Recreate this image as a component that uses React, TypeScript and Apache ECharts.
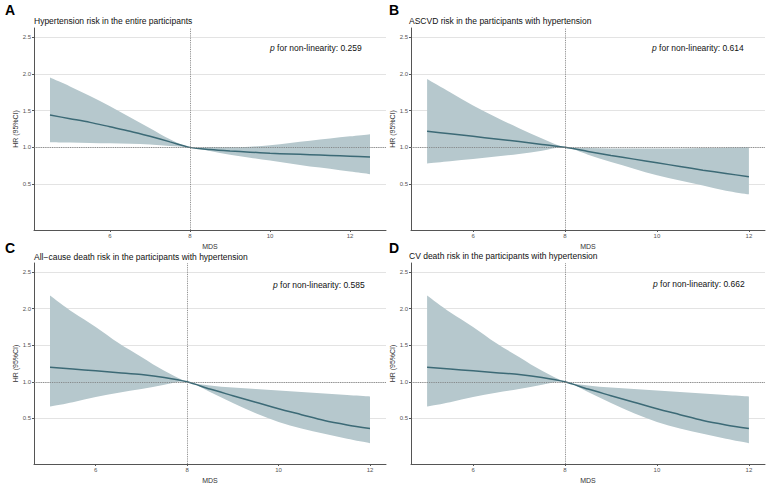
import React, { useEffect, useRef } from "react";
import * as echarts from "echarts";

// ---- data ----
const xA = [4.5, 5, 5.5, 6, 6.5, 7, 7.5, 8, 8.5, 9, 9.5, 10, 10.5, 11, 11.5, 12, 12.5];
const midA = [1.44, 1.39, 1.34, 1.28, 1.22, 1.15, 1.075, 1.0, 0.97, 0.95, 0.935, 0.92, 0.91, 0.9, 0.89, 0.88, 0.87];
const upA = [1.95, 1.83, 1.7, 1.56, 1.41, 1.26, 1.11, 1.0, 1.0, 1.0, 1.01, 1.03, 1.06, 1.09, 1.12, 1.15, 1.18];
const loA = [1.07, 1.065, 1.06, 1.055, 1.05, 1.04, 1.02, 1.0, 0.95, 0.9, 0.86, 0.82, 0.78, 0.74, 0.71, 0.67, 0.635];

const xB = [5, 5.5, 6, 6.5, 7, 7.5, 8, 8.5, 9, 9.5, 10, 10.5, 11, 11.5, 12];
const midB = [1.22, 1.185, 1.15, 1.115, 1.08, 1.04, 1.0, 0.945, 0.89, 0.84, 0.79, 0.74, 0.69, 0.645, 0.6];
const upB = [1.93, 1.75, 1.57, 1.41, 1.26, 1.12, 1.0, 0.99, 0.985, 0.985, 0.985, 0.985, 0.99, 0.995, 1.0];
const loB = [0.78, 0.81, 0.84, 0.875, 0.91, 0.955, 1.0, 0.9, 0.8, 0.71, 0.62, 0.55, 0.48, 0.41, 0.36];

const xC = [5, 5.5, 6, 6.5, 7, 7.5, 8, 8.5, 9, 9.5, 10, 10.5, 11, 11.5, 12];
const midC = [1.2, 1.175, 1.15, 1.125, 1.1, 1.06, 1.0, 0.9, 0.81, 0.72, 0.63, 0.55, 0.47, 0.41, 0.36];
const upC = [2.18, 1.95, 1.75, 1.53, 1.34, 1.15, 1.0, 0.95, 0.92, 0.9, 0.88, 0.86, 0.84, 0.82, 0.8];
const loC = [0.66, 0.72, 0.79, 0.85, 0.9, 0.96, 1.0, 0.86, 0.71, 0.57, 0.45, 0.36, 0.29, 0.22, 0.16];

const xD = [5, 5.5, 6, 6.5, 7, 7.5, 8, 8.5, 9, 9.5, 10, 10.5, 11, 11.5, 12];
const midD = [1.2, 1.175, 1.15, 1.125, 1.1, 1.06, 1.0, 0.9, 0.81, 0.72, 0.63, 0.55, 0.47, 0.41, 0.36];
const upD = [2.18, 1.95, 1.75, 1.53, 1.34, 1.15, 1.0, 0.95, 0.92, 0.9, 0.88, 0.86, 0.84, 0.82, 0.8];
const loD = [0.66, 0.72, 0.79, 0.85, 0.9, 0.96, 1.0, 0.86, 0.71, 0.57, 0.45, 0.36, 0.29, 0.22, 0.16];

const xTicks = [6, 8, 10, 12];
const yTicks = [0.5, 1.0, 1.5, 2.0, 2.5];
const letters = ["A", "B", "C", "D"];
const titles = [
  "Hypertension risk in the entire participants",
  "ASCVD risk in the participants with hypertension",
  "All\u2212cause death risk in the participants with hypertension",
  "CV death risk in the participants with hypertension",
];
const pValues = ["0.259", "0.614", "0.585", "0.662"];

const FILL = "#b6c8cd";
const LINE = "#3c6a76";
const FONT = "Liberation Sans, Arial, sans-serif";

const grids = [
  { left: 34, top: 28, width: 352, height: 202 },
  { left: 411, top: 28, width: 354, height: 202 },
  { left: 34, top: 263, width: 352, height: 204 },
  { left: 411, top: 263, width: 354, height: 204 },
];
const xRanges = [
  [4.1, 12.9],
  [4.65, 12.35],
  [4.65, 12.35],
  [4.65, 12.35],
];
const letterPos = [
  [5, 3],
  [389, 3],
  [5, 241],
  [389, 241],
];
const titlePos = [
  [34, 16],
  [409, 16],
  [34, 252],
  [409, 251],
];
const pPos = [
  [270, 43],
  [652, 43],
  [273, 280],
  [653, 279],
];

// Catmull-Rom spline through pts as SVG cubic segments (without initial move)
function splineSegs(pts: number[][]): string {
  let d = "";
  const n = pts.length;
  for (let i = 0; i < n - 1; i++) {
    const p0 = pts[Math.max(0, i - 1)];
    const p1 = pts[i];
    const p2 = pts[i + 1];
    const p3 = pts[Math.min(n - 1, i + 2)];
    const c1x = p1[0] + (p2[0] - p0[0]) / 6;
    const c1y = p1[1] + (p2[1] - p0[1]) / 6;
    const c2x = p2[0] - (p3[0] - p1[0]) / 6;
    const c2y = p2[1] - (p3[1] - p1[1]) / 6;
    d += ` C${c1x.toFixed(2)},${c1y.toFixed(2)} ${c2x.toFixed(2)},${c2y.toFixed(2)} ${p2[0].toFixed(2)},${p2[1].toFixed(2)}`;
  }
  return d;
}

export default function App() {
  const ref = useRef<HTMLDivElement>(null);
  useEffect(() => {
    if (!ref.current) return;
    const chart = echarts.init(ref.current, undefined, { renderer: "svg" });
    const panels = [
      [xA, loA, midA, upA],
      [xB, loB, midB, upB],
      [xC, loC, midC, upC],
      [xD, loD, midD, upD],
    ];
    const series: any[] = [];
    panels.forEach(([xs, lo, mid, up], i) => {
      series.push({
        type: "custom",
        xAxisIndex: i,
        yAxisIndex: i,
        data: xs.map((x, k) => [x, lo[k], up[k]]),
        encode: { x: 0, y: [1, 2] },
        silent: true,
        z: 2,
        renderItem: (params: any, api: any) => {
          if (params.dataIndex !== 0) return null;
          const top = xs.map((x, k) => api.coord([x, up[k]]));
          const bot = xs.map((x, k) => api.coord([x, lo[k]])).reverse();
          const d =
            `M${top[0][0].toFixed(2)},${top[0][1].toFixed(2)}` +
            splineSegs(top) +
            ` L${bot[0][0].toFixed(2)},${bot[0][1].toFixed(2)}` +
            splineSegs(bot) +
            " Z";
          return {
            type: "path",
            shape: { pathData: d },
            style: { fill: FILL, stroke: "none" },
          };
        },
      });
      series.push({
        type: "line",
        xAxisIndex: i,
        yAxisIndex: i,
        data: xs.map((x, k) => [x, mid[k]]),
        symbol: "none",
        smooth: 0.3,
        lineStyle: { color: LINE, width: 1.5 },
        silent: true,
        z: 3,
        markLine: {
          symbol: "none",
          silent: true,
          label: { show: false },
          lineStyle: { type: "dotted", color: "#7a7a7a", width: 0.9 },
          data: [{ xAxis: 8 }, { yAxis: 1 }],
        },
      });
    });

    const xAxis = grids.map((_, i) => ({
      type: "value",
      gridIndex: i,
      min: xRanges[i][0],
      max: xRanges[i][1],
      name: "MDS",
      nameLocation: "middle",
      nameGap: 13,
      nameTextStyle: { fontSize: 7, color: "#333", fontFamily: FONT },
      axisLine: { show: true, onZero: false, lineStyle: { color: "#555", width: 1 } },
      axisTick: { show: true, length: 2, customValues: xTicks, lineStyle: { color: "#555" } },
      axisLabel: { customValues: xTicks, fontSize: 6, color: "#555", margin: 3, fontFamily: FONT },
      splitLine: { show: false },
    }));
    const yAxis = grids.map((_, i) => ({
      type: "value",
      gridIndex: i,
      min: -0.125,
      max: 2.625,
      name: "HR (95%CI)",
      nameLocation: "middle",
      nameGap: 10,
      nameTextStyle: { fontSize: 7, color: "#333", fontFamily: FONT },
      axisLine: { show: true, onZero: false, lineStyle: { color: "#555", width: 1 } },
      axisTick: { show: true, length: 2, customValues: yTicks, lineStyle: { color: "#555" } },
      axisLabel: {
        customValues: yTicks,
        fontSize: 6,
        color: "#555",
        margin: 3,
        fontFamily: FONT,
        formatter: (v: number) => v.toFixed(1),
      },
      splitLine: { show: true, lineStyle: { color: "#e3e3e3", width: 1 } },
    }));

    const graphic: any[] = [];
    for (let i = 0; i < 4; i++) {
      graphic.push({
        type: "text",
        left: letterPos[i][0],
        top: letterPos[i][1],
        z: 100,
        style: { text: letters[i], font: `bold 14px ${FONT}`, fill: "#000" },
      });
      graphic.push({
        type: "text",
        left: titlePos[i][0],
        top: titlePos[i][1],
        z: 100,
        style: { text: titles[i], font: `8.5px ${FONT}`, fill: "#111" },
      });
      graphic.push({
        type: "text",
        left: pPos[i][0],
        top: pPos[i][1],
        z: 100,
        style: {
          text: "{i|p} for non-linearity: " + pValues[i],
          font: `8.5px ${FONT}`,
          fill: "#111",
          rich: { i: { fontStyle: "italic", fontSize: 8.5, fontFamily: FONT, fill: "#111" } },
        },
      });
    }

    chart.setOption({
      animation: false,
      backgroundColor: "#ffffff",
      grid: grids,
      xAxis,
      yAxis,
      series,
      graphic,
    });
    return () => chart.dispose();
  }, []);
  return (
    <div
      ref={ref}
      style={{ position: "fixed", left: 0, top: 0, width: 767, height: 485, background: "#fff" }}
    />
  );
}
